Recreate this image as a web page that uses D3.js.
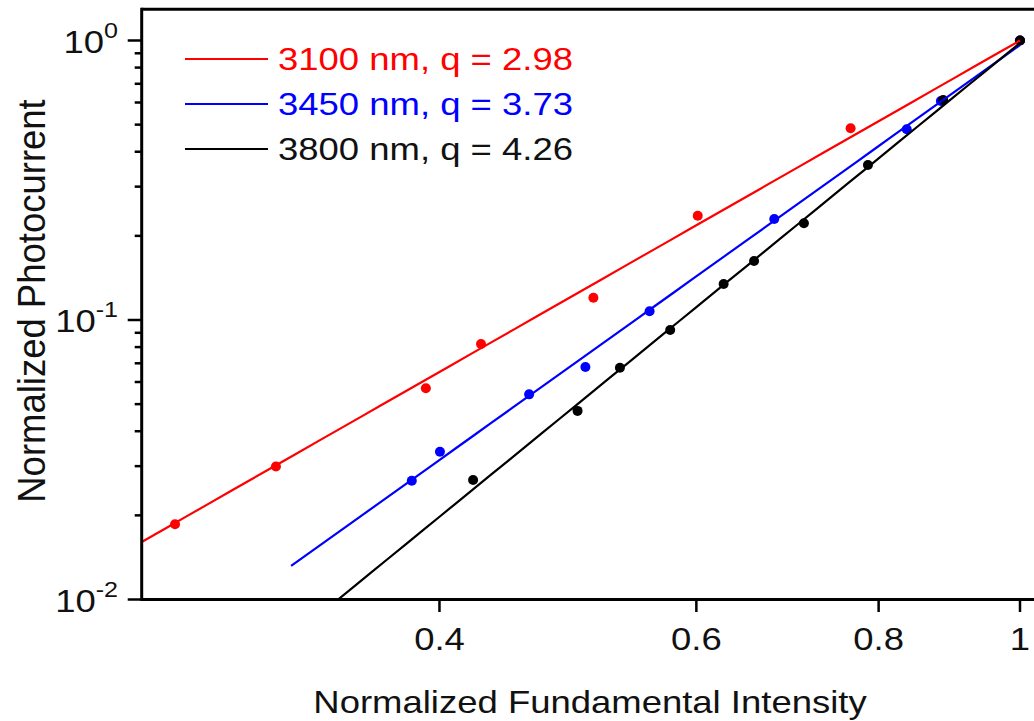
<!DOCTYPE html>
<html>
<head>
<meta charset="utf-8">
<script src="https://cdn.jsdelivr.net/npm/d3@7"></script>
<style>
  html, body { margin: 0; padding: 0; background: #fff; }
  svg { display: block; font-family: "Liberation Sans", Arial, sans-serif; }
</style>
</head>
<body>
<svg id="chart" width="1034" height="721"></svg>
<script>
// ---- data ----
const seriesNames = ["3100 nm, q = 2.98", "3450 nm, q = 3.73", "3800 nm, q = 4.26"];
const seriesColors = ["#ff0000", "#0000ff", "#000000"];

const redX = [0.2635, 0.309, 0.3915, 0.4271, 0.510, 0.6013, 0.7654, 1];
const redY = [0.0186, 0.0299, 0.0570, 0.0820, 0.1202, 0.2361, 0.485, 1];

const blueX = [0.3829, 0.4003, 0.4608, 0.5036, 0.5573, 0.6785, 0.8363, 0.8826, 1];
const blueY = [0.0266, 0.0338, 0.0542, 0.0679, 0.1074, 0.2298, 0.4812, 0.6075, 1];

const blackX = [0.4218, 0.4974, 0.5318, 0.5757, 0.6264, 0.6572, 0.7110, 0.7866, 0.8858, 1];
const blackY = [0.02677, 0.0473, 0.0675, 0.0921, 0.1345, 0.1626, 0.2218, 0.3585, 0.6124, 1];

// power-law fits y = A * x^q, drawn from xStart to 1
const fitQ = [2.98, 3.73, 4.26];
const fitA = [1.0, 0.963, 0.98];
const fitStart = [0.25, 0.3165, 0.3405];

const xTickValues = [0.4, 0.6, 0.8, 1];
const xTickLabels = ["0.4", "0.6", "0.8", "1"];
const yMajorTicks = [1, 0.1, 0.01];
const yMajorExp = ["0", "-1", "-2"];
const yMinorTicks = [0.9, 0.8, 0.7, 0.6, 0.5, 0.4, 0.3, 0.2, 0.09, 0.08, 0.07, 0.06, 0.05, 0.04, 0.03, 0.02];

const xTitle = "Normalized Fundamental Intensity";
const yTitle = "Normalized Photocurrent";

// ---- layout ----
const svg = d3.select("#chart");
const pLeft = 141.7, pRight = 1020, pTop = 9.3, pBottom = 599.5;
const SX = 1.14; // horizontal glyph stretch seen in the reference
const FS = 32;

const x = d3.scaleLog().domain([0.25, 1]).range([pLeft, pRight]);
const y = d3.scaleLog().domain([0.01, 1]).range([pBottom, 40.5]);

// clip
svg.append("defs").append("clipPath").attr("id", "plotclip")
  .append("rect").attr("x", pLeft).attr("y", pTop).attr("width", 1034 - pLeft).attr("height", pBottom - pTop);

const series = [
  {xs: redX, ys: redY},
  {xs: blueX, ys: blueY},
  {xs: blackX, ys: blackY}
];

const plot = svg.append("g").attr("clip-path", "url(#plotclip)");

// points
series.forEach((s, i) => {
  plot.append("g").selectAll("circle")
    .data(s.xs.map((v, k) => [v, s.ys[k]]))
    .join("circle")
    .attr("cx", d => x(d[0]))
    .attr("cy", d => y(d[1]))
    .attr("r", 5)
    .attr("fill", seriesColors[i]);
});

// fit lines
const line = d3.line().x(d => x(d[0])).y(d => y(d[1]));
fitQ.forEach((q, i) => {
  const pts = d3.range(0, 41).map(k => {
    const lx = Math.log10(fitStart[i]) + (0 - Math.log10(fitStart[i])) * k / 40;
    const xv = Math.pow(10, lx);
    return [xv, fitA[i] * Math.pow(xv, q)];
  });
  plot.append("path").attr("d", line(pts))
    .attr("fill", "none").attr("stroke", seriesColors[i]).attr("stroke-width", 2.2);
});

// frame
const frame = svg.append("g").attr("stroke", "#000").attr("stroke-width", 3).attr("fill", "none");
frame.append("line").attr("x1", pLeft).attr("x2", 1034).attr("y1", pTop).attr("y2", pTop);
frame.append("line").attr("x1", pLeft).attr("x2", pLeft).attr("y1", pTop - 1.5).attr("y2", pBottom + 1.5);
frame.append("line").attr("x1", pLeft).attr("x2", 1034).attr("y1", pBottom).attr("y2", pBottom);

// y ticks
const yt = svg.append("g").attr("stroke", "#000").attr("stroke-width", 2.5);
yMajorTicks.forEach(v => {
  yt.append("line").attr("x1", pLeft - 14).attr("x2", pLeft).attr("y1", y(v)).attr("y2", y(v));
});
yMinorTicks.forEach(v => {
  yt.append("line").attr("x1", pLeft - 7).attr("x2", pLeft).attr("y1", y(v)).attr("y2", y(v));
});

// y tick labels 10^n
yMajorTicks.forEach((v, i) => {
  const t = svg.append("text")
    .attr("transform", `translate(118,${y(v) + 12}) scale(${SX},1)`)
    .attr("text-anchor", "end").attr("font-size", FS).attr("fill", "#111");
  t.append("tspan").text("10");
  t.append("tspan").attr("font-size", 22).attr("dy", -15).text(yMajorExp[i]);
});

// x ticks
const xt = svg.append("g").attr("stroke", "#000").attr("stroke-width", 2.5);
xTickValues.forEach(v => {
  xt.append("line").attr("x1", x(v)).attr("x2", x(v)).attr("y1", pBottom).attr("y2", pBottom + 12.5);
});
xTickValues.forEach((v, i) => {
  svg.append("text")
    .attr("transform", `translate(${x(v)},650) scale(${SX},1)`)
    .attr("text-anchor", "middle").attr("font-size", FS).attr("fill", "#111")
    .text(xTickLabels[i]);
});

// axis titles
svg.append("text")
  .attr("transform", `translate(590,713) scale(${SX},1)`)
  .attr("text-anchor", "middle").attr("font-size", FS).attr("fill", "#111")
  .text(xTitle);
svg.append("text")
  .attr("transform", `translate(45,301) rotate(-90) scale(1,1.08)`)
  .attr("text-anchor", "middle").attr("font-size", 36.5).attr("fill", "#111")
  .text(yTitle);

// legend
const legY = [59, 104, 149];
seriesNames.forEach((name, i) => {
  svg.append("line").attr("x1", 185).attr("x2", 268).attr("y1", legY[i]).attr("y2", legY[i])
    .attr("stroke", seriesColors[i]).attr("stroke-width", 2.2);
  svg.append("text")
    .attr("transform", `translate(278,${legY[i] + 10.5}) scale(${SX},1)`)
    .attr("font-size", FS).attr("fill", i === 2 ? "#111" : seriesColors[i])
    .text(name);
});
</script>
</body>
</html>
